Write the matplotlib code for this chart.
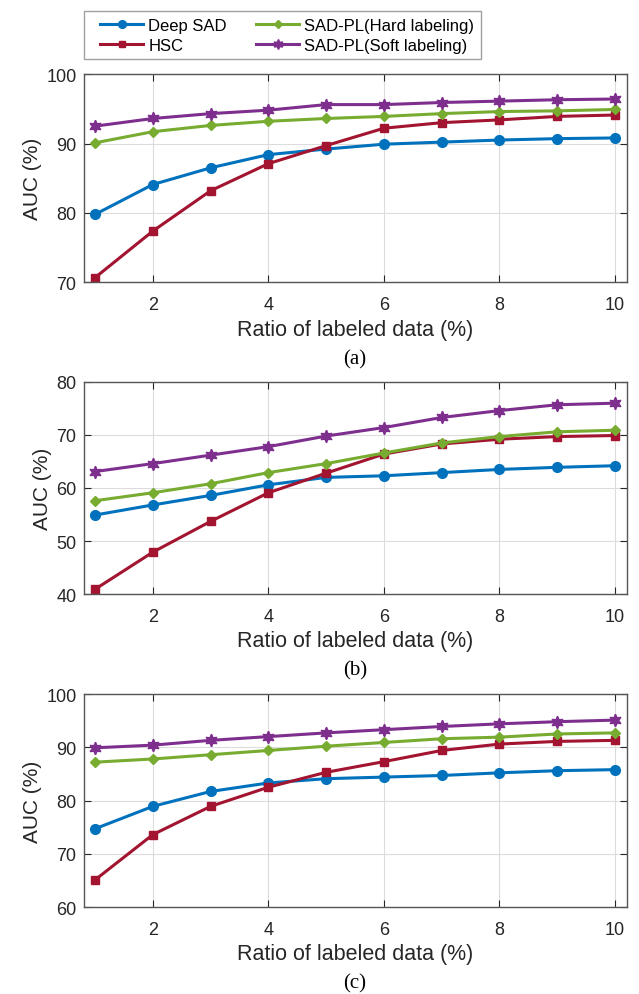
import matplotlib
matplotlib.use("Agg")
import matplotlib.pyplot as plt
from matplotlib.legend_handler import HandlerLine2D
import numpy as np

x = [1, 2, 3, 4, 5, 6, 7, 8, 9, 10]
methods = ["Deep SAD", "HSC", "SAD-PL(Hard labeling)", "SAD-PL(Soft labeling)"]

a_deep = [79.8, 84.1, 86.5, 88.4, 89.2, 89.9, 90.2, 90.5, 90.7, 90.8]
a_hsc  = [70.7, 77.4, 83.2, 87.1, 89.7, 92.2, 93.0, 93.4, 93.9, 94.1]
a_hard = [90.1, 91.7, 92.6, 93.2, 93.6, 93.9, 94.3, 94.6, 94.7, 94.9]
a_soft = [92.5, 93.6, 94.3, 94.8, 95.6, 95.6, 95.9, 96.1, 96.3, 96.4]

b_deep = [54.9, 56.8, 58.6, 60.6, 62.0, 62.3, 62.9, 63.5, 63.9, 64.2]
b_hsc  = [40.9, 47.9, 53.7, 59.1, 62.8, 66.4, 68.3, 69.2, 69.7, 69.9]
b_hard = [57.6, 59.1, 60.8, 62.9, 64.6, 66.6, 68.5, 69.7, 70.6, 70.9]
b_soft = [63.1, 64.6, 66.2, 67.8, 69.8, 71.4, 73.3, 74.6, 75.7, 76.0]

c_deep = [74.7, 78.9, 81.7, 83.3, 84.1, 84.4, 84.7, 85.2, 85.6, 85.8]
c_hsc  = [65.1, 73.6, 78.9, 82.5, 85.3, 87.3, 89.4, 90.6, 91.1, 91.3]
c_hard = [87.2, 87.8, 88.6, 89.4, 90.2, 90.9, 91.6, 91.9, 92.5, 92.7]
c_soft = [89.9, 90.4, 91.3, 92.0, 92.7, 93.3, 93.9, 94.4, 94.8, 95.1]

panels = [
    ("(a)", [a_deep, a_hsc, a_hard, a_soft], (70, 100), [70, 80, 90, 100]),
    ("(b)", [b_deep, b_hsc, b_hard, b_soft], (40, 80), [40, 50, 60, 70, 80]),
    ("(c)", [c_deep, c_hsc, c_hard, c_soft], (60, 100), [60, 70, 80, 90, 100]),
]

colors = ["#0072BD", "#A2142F", "#77AC30", "#7E2F8E"]
markers = ["o", "s", "D", (6, 1, 0)]
msizes = [7, 6, 5, 9]

plt.rcParams['font.family'] = ['Liberation Sans', 'DejaVu Sans']
fig = plt.figure(figsize=(6.39, 9.95), dpi=100)

boxes = [(0.1307, 0.7151, 0.8498, 0.2095),
         (0.1307, 0.4020, 0.8498, 0.2131),
         (0.1307, 0.0874, 0.8498, 0.2141)]

dark = "#262626"
handles = None
for (lab, series, ylim, yt), box in zip(panels, boxes):
    ax = fig.add_axes(box)
    hs = []
    for s, c, m, ms, name in zip(series, colors, markers, msizes, methods):
        h, = ax.plot(x, s, color=c, marker=m, markersize=ms, linewidth=2.2,
                     markerfacecolor=c, markeredgecolor=c, label=name)
        hs.append(h)
    handles = hs
    ax.set_xlim(0.8, 10.2)
    ax.set_ylim(*ylim)
    ax.set_xticks([2, 4, 6, 8, 10])
    ax.set_yticks(yt)
    ax.grid(True, color="#dcdcdc", linewidth=0.8)
    ax.set_axisbelow(True)
    ax.tick_params(direction="in", top=True, right=True, labelsize=13,
                   colors=dark, length=5, width=0.8)
    ax.tick_params(axis="x", pad=10)
    ax.tick_params(axis="y", pad=5)
    for sp in ax.spines.values():
        sp.set_color("#555555")
        sp.set_linewidth(1.0)
    ax.set_ylabel("AUC (%)", fontsize=15, color=dark, labelpad=3)
    ax.set_xlabel("Ratio of labeled data (%)", fontsize=15.5, color=dark, labelpad=4)
    ax.annotate(lab, xy=(0.5, 0), xycoords="axes fraction",
                xytext=(0, -76 * 0.72), textcoords="offset points",
                ha="center", va="center",
                fontsize=15, family="Liberation Serif", color="black")

hmap = {h: HandlerLine2D(xpad=0.55) for h in handles}
fig.legend(handles, methods,
           ncol=2, loc="upper left", bbox_to_anchor=(84 / 639, 1 - 12 / 995),
           borderaxespad=0, handler_map=hmap,
           fontsize=12, frameon=True, fancybox=False, edgecolor="#888888",
           handlelength=3.15, handletextpad=0.3, columnspacing=1.2,
           borderpad=0.4, labelspacing=0.3, markerscale=0.8)

fig.savefig("out.png", dpi=100)
